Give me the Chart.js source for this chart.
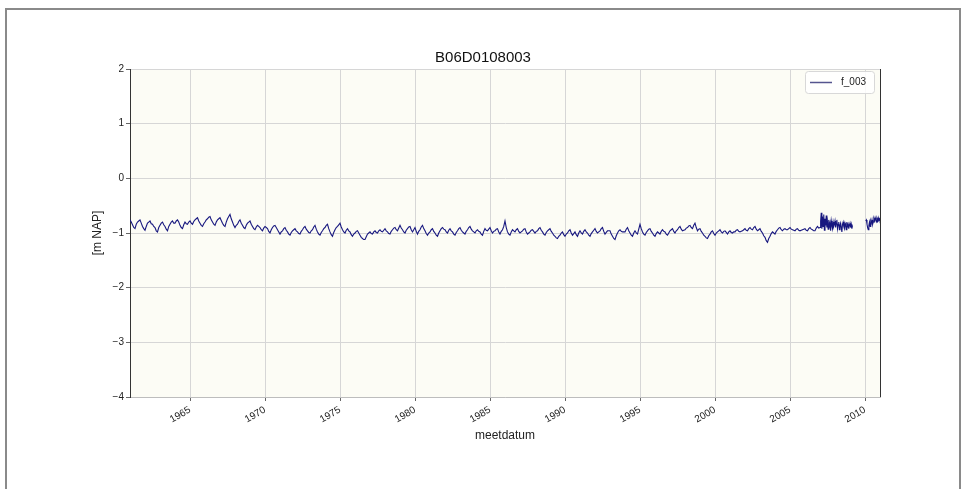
<!DOCTYPE html>
<html lang="en">
<head>
    <meta charset="UTF-8">
    <title>B06D0108003</title>
    <script src="https://cdn.jsdelivr.net/npm/chart.js"></script>
    <style>
        body { margin: 0; background: #fff; }
        #wrap { width: 966px; height: 489px; position: relative; }
    </style>
</head>
<body>
<div id="wrap"><canvas id="chart" width="966" height="489"></canvas></div>

<script>
    // meetreeks f_003, waarden in m NAP
    var seriesName = 'f_003'
    var titleText = 'B06D0108003'
    var yearTicks = [1965, 1970, 1975, 1980, 1985, 1990, 1995, 2000, 2005, 2010]
    var yTicks = [-4, -3, -2, -1, 0, 1, 2]

    // 1961 t/m 2006, maandelijks
    var mainStart = 1961
    var mainPerYear = 12
    var mainLevels = [
        -0.76, -0.80, -0.85, -0.90, -0.92, -0.84, -0.80, -0.78, -0.76, -0.82, -0.88, -0.92,
        -0.95, -0.88, -0.82, -0.80, -0.78, -0.83, -0.84, -0.88, -0.90, -0.96, -0.98, -0.90,
        -0.86, -0.82, -0.80, -0.85, -0.88, -0.93, -0.96, -0.88, -0.84, -0.80, -0.78, -0.82,
        -0.82, -0.78, -0.76, -0.80, -0.86, -0.90, -0.92, -0.85, -0.80, -0.83, -0.84, -0.80,
        -0.78, -0.82, -0.84, -0.79, -0.76, -0.74, -0.72, -0.78, -0.82, -0.86, -0.88, -0.83,
        -0.80, -0.76, -0.74, -0.71, -0.70, -0.76, -0.80, -0.84, -0.86, -0.80, -0.76, -0.74,
        -0.72, -0.77, -0.82, -0.86, -0.88, -0.80, -0.74, -0.70, -0.66, -0.74, -0.80, -0.86,
        -0.90, -0.86, -0.84, -0.79, -0.76, -0.82, -0.86, -0.90, -0.92, -0.86, -0.82, -0.80,
        -0.78, -0.84, -0.88, -0.92, -0.94, -0.89, -0.86, -0.88, -0.90, -0.94, -0.96, -0.91,
        -0.88, -0.90, -0.92, -0.97, -1.00, -0.94, -0.90, -0.87, -0.86, -0.90, -0.94, -0.98,
        -1.02, -0.98, -0.96, -0.92, -0.90, -0.95, -0.98, -1.02, -1.04, -0.99, -0.96, -0.94,
        -0.92, -0.96, -0.98, -1.01, -1.02, -0.97, -0.94, -0.90, -0.88, -0.93, -0.96, -0.99,
        -1.00, -0.96, -0.94, -0.89, -0.86, -0.93, -0.98, -1.02, -1.04, -0.99, -0.96, -0.92,
        -0.90, -0.86, -0.84, -0.92, -0.98, -1.03, -1.06, -0.99, -0.94, -0.90, -0.88, -0.85,
        -0.82, -0.89, -0.94, -0.98, -1.00, -0.95, -0.92, -0.96, -0.98, -1.03, -1.06, -1.02,
        -1.00, -0.97, -0.96, -1.00, -1.04, -1.08, -1.10, -1.12, -1.12, -1.07, -1.02, -1.00,
        -0.98, -1.01, -1.02, -0.98, -0.96, -0.99, -1.00, -0.96, -0.94, -0.97, -0.98, -0.95,
        -0.92, -0.96, -0.98, -1.01, -1.02, -0.97, -0.94, -0.91, -0.90, -0.94, -0.96, -0.91,
        -0.86, -0.91, -0.94, -0.98, -1.00, -0.95, -0.92, -0.89, -0.88, -0.94, -0.98, -0.94,
        -0.90, -0.97, -1.02, -0.97, -0.94, -0.89, -0.86, -0.92, -0.96, -1.01, -1.04, -1.00,
        -0.98, -0.94, -0.92, -0.97, -1.00, -1.04, -1.06, -1.00, -0.96, -0.92, -0.90, -0.93,
        -0.94, -0.98, -1.00, -0.95, -0.92, -0.96, -0.98, -1.02, -1.04, -0.99, -0.96, -0.92,
        -0.90, -0.95, -0.98, -1.00, -1.02, -0.97, -0.94, -0.90, -0.88, -0.93, -0.96, -0.98,
        -1.00, -0.96, -0.94, -0.97, -0.98, -1.02, -1.04, -0.97, -0.92, -0.95, -0.96, -0.93,
        -0.90, -0.96, -1.00, -0.97, -0.96, -0.93, -0.92, -0.98, -1.02, -0.97, -0.94, -0.88,
        -0.78, -0.90, -0.98, -1.02, -1.04, -0.98, -0.94, -0.96, -0.98, -0.94, -0.92, -0.97,
        -1.00, -0.98, -0.96, -0.93, -0.92, -0.98, -1.02, -1.00, -0.98, -0.95, -0.94, -0.97,
        -1.00, -0.97, -0.96, -0.92, -0.90, -0.95, -0.98, -1.02, -1.04, -0.99, -0.96, -0.94,
        -0.92, -0.97, -1.00, -1.04, -1.06, -1.09, -1.10, -1.06, -1.04, -1.00, -0.98, -1.03,
        -1.06, -1.02, -1.00, -0.96, -0.94, -1.00, -1.04, -1.01, -0.98, -1.03, -1.06, -1.00,
        -0.96, -1.00, -1.02, -0.97, -0.94, -0.98, -1.00, -1.04, -1.06, -1.01, -0.98, -0.95,
        -0.92, -0.97, -1.00, -0.98, -0.96, -0.92, -0.90, -0.97, -1.02, -0.99, -0.96, -0.96,
        -0.96, -1.02, -1.06, -1.10, -1.12, -1.05, -1.00, -0.96, -0.94, -0.97, -0.98, -0.98,
        -0.98, -0.93, -0.90, -0.96, -1.00, -1.04, -1.06, -1.00, -0.96, -1.00, -1.02, -0.93,
        -0.84, -0.92, -0.98, -1.02, -1.04, -0.99, -0.96, -0.93, -0.92, -0.97, -1.00, -1.04,
        -1.06, -1.01, -0.98, -1.00, -1.02, -0.97, -0.94, -0.97, -0.98, -1.02, -1.04, -1.00,
        -0.96, -0.94, -0.92, -0.97, -1.00, -0.96, -0.94, -0.90, -0.88, -0.93, -0.96, -0.95,
        -0.94, -0.91, -0.90, -0.87, -0.86, -0.90, -0.92, -0.86, -0.82, -0.90, -0.96, -0.93,
        -0.92, -0.97, -1.00, -1.04, -1.06, -1.09, -1.10, -1.05, -1.02, -0.98, -0.96, -1.01,
        -1.04, -1.00, -0.98, -0.96, -0.94, -0.98, -1.00, -0.97, -0.96, -0.99, -1.02, -0.98,
        -0.96, -0.99, -1.00, -0.98, -0.98, -0.95, -0.94, -0.97, -0.98, -0.97, -0.96, -0.94,
        -0.92, -0.95, -0.96, -0.92, -0.90, -0.93, -0.94, -0.90, -0.88, -0.93, -0.96, -0.94,
        -0.92, -0.97, -1.00, -1.05, -1.08, -1.14, -1.17, -1.10, -1.06, -1.01, -0.98, -1.00,
        -1.02, -0.97, -0.94, -0.91, -0.90, -0.94, -0.96, -0.93, -0.92, -0.94, -0.94, -0.92,
        -0.90, -0.93, -0.94, -0.95, -0.96, -0.93, -0.92, -0.95, -0.96, -0.95, -0.94, -0.93,
        -0.92, -0.95, -0.96, -0.92, -0.90, -0.93, -0.94, -0.96, -0.96, -0.91, -0.88, -0.91
    ]

    // 2007 t/m begin 2009, dichtere reeks
    var denseStart = 2007
    var densePerYear = 24
    var denseLevels = [
        -0.90, -0.78, -0.63, -0.92, -0.70, -0.88, -0.66, -0.95, -0.74, -0.86, -0.68, -0.90,
        -0.80, -0.93, -0.76, -0.88, -0.82, -0.96, -0.78, -0.86, -0.92, -0.80, -0.88, -0.84,
        -0.78, -0.90, -0.82, -0.76, -0.92, -0.84, -0.80, -0.94, -0.86, -0.82, -0.90, -0.98,
        -0.84, -0.80, -0.88, -0.92, -0.82, -0.86, -0.94, -0.80, -0.88, -0.84, -0.92, -0.86,
        -0.82, -0.90, -0.84, -0.92, -0.86
    ]

    // na de onderbreking, 2010
    var lateStart = 2010.05
    var latePerYear = 24
    var lateLevels = [
        -0.78, -0.76, -0.84, -0.90, -0.94, -0.86, -0.80, -0.88, -0.78, -0.82, -0.76, -0.84,
        -0.80, -0.74, -0.78, -0.72, -0.76, -0.80, -0.74, -0.78, -0.72, -0.76, -0.74, -0.78, -0.76
    ]

    function toPoints(start, perYear, levels) {
        return levels.map((v, i) => ({ x: start + i / perYear, y: v }))
    }

    var points = toPoints(mainStart, mainPerYear, mainLevels)
        .concat(toPoints(denseStart, densePerYear, denseLevels))
    points.push({ x: 2009.6, y: null })
    points = points.concat(toPoints(lateStart, latePerYear, lateLevels))

    var lineColor = '#17177f'
    var font = 'Liberation Sans, Arial, sans-serif'

    var decor = {
        id: 'decor',
        beforeDraw(chart) {
            var a = chart.chartArea, ctx = chart.ctx
            ctx.save()
            ctx.fillStyle = '#fcfcf5'
            ctx.fillRect(a.left, a.top, a.right - a.left, a.bottom - a.top)
            ctx.restore()
        },
        afterDraw(chart) {
            var a = chart.chartArea, ctx = chart.ctx
            ctx.save()
            // rechter as
            ctx.strokeStyle = '#333'
            ctx.lineWidth = 1
            ctx.beginPath()
            ctx.moveTo(a.right + 0.5, a.top)
            ctx.lineTo(a.right + 0.5, a.bottom)
            ctx.stroke()
            // legenda
            var lx = a.right - 75, ly = a.top + 2
            ctx.fillStyle = 'rgba(255,255,255,0.85)'
            ctx.strokeStyle = '#d8d8d8'
            ctx.beginPath()
            ctx.roundRect(lx + 0.5, ly + 0.5, 69, 22, 3)
            ctx.fill()
            ctx.stroke()
            ctx.strokeStyle = '#55558f'
            ctx.lineWidth = 1.5
            ctx.beginPath()
            ctx.moveTo(lx + 5, ly + 11.5)
            ctx.lineTo(lx + 27, ly + 11.5)
            ctx.stroke()
            ctx.fillStyle = '#222'
            ctx.font = '10px ' + font
            ctx.textBaseline = 'middle'
            ctx.fillText(seriesName, lx + 36, ly + 11.5)
            // figuurkader
            ctx.strokeStyle = '#8a8a8a'
            ctx.lineWidth = 2
            ctx.strokeRect(6, 9, 954, 500)
            ctx.restore()
        }
    }

    var canvas = document.getElementById('chart')
    var chart = new Chart(canvas, {
        type: 'line',
        data: {
            datasets: [{
                label: seriesName,
                data: points,
                borderColor: lineColor,
                borderWidth: 1.1,
                pointRadius: 0,
                tension: 0,
                spanGaps: false
            }]
        },
        options: {
            responsive: false,
            animation: false,
            layout: { padding: { left: 86, right: 86, top: 49, bottom: 42 } },
            plugins: {
                legend: { display: false },
                tooltip: { enabled: false },
                title: {
                    display: true,
                    text: titleText,
                    color: '#111',
                    font: { family: font, size: 15, weight: 'normal' },
                    padding: { top: 0, bottom: 2 }
                }
            },
            scales: {
                x: {
                    type: 'linear',
                    min: 1961,
                    max: 2011,
                    afterBuildTicks: s => { s.ticks = yearTicks.map(v => ({ value: v })) },
                    afterFit: s => { s.height = 50 },
                    grid: { color: '#d6d6d6', tickLength: 4, tickColor: '#666' },
                    border: { color: '#bdbdbd' },
                    ticks: {
                        autoSkip: false,
                        minRotation: 30,
                        maxRotation: 30,
                        padding: 3,
                        color: '#222',
                        font: { family: font, size: 10 },
                        callback: v => String(v)
                    },
                    title: {
                        display: true,
                        text: 'meetdatum',
                        color: '#222',
                        font: { family: font, size: 12 },
                        padding: { top: 2, bottom: 4 }
                    }
                },
                y: {
                    min: -4,
                    max: 2,
                    afterBuildTicks: s => { s.ticks = yTicks.map(v => ({ value: v })) },
                    afterFit: s => { s.width = 44 },
                    grid: { color: '#d6d6d6', tickLength: 4, tickColor: '#666' },
                    border: { color: '#333' },
                    ticks: {
                        padding: 2,
                        color: '#222',
                        font: { family: font, size: 10 },
                        callback: v => v < 0 ? '\u2212' + Math.abs(v) : String(v)
                    },
                    title: {
                        display: true,
                        text: '[m NAP]',
                        color: '#222',
                        font: { family: font, size: 12 },
                        padding: { top: 4, bottom: 2 }
                    }
                }
            }
        },
        plugins: [decor]
    })
</script>
</body>
</html>
